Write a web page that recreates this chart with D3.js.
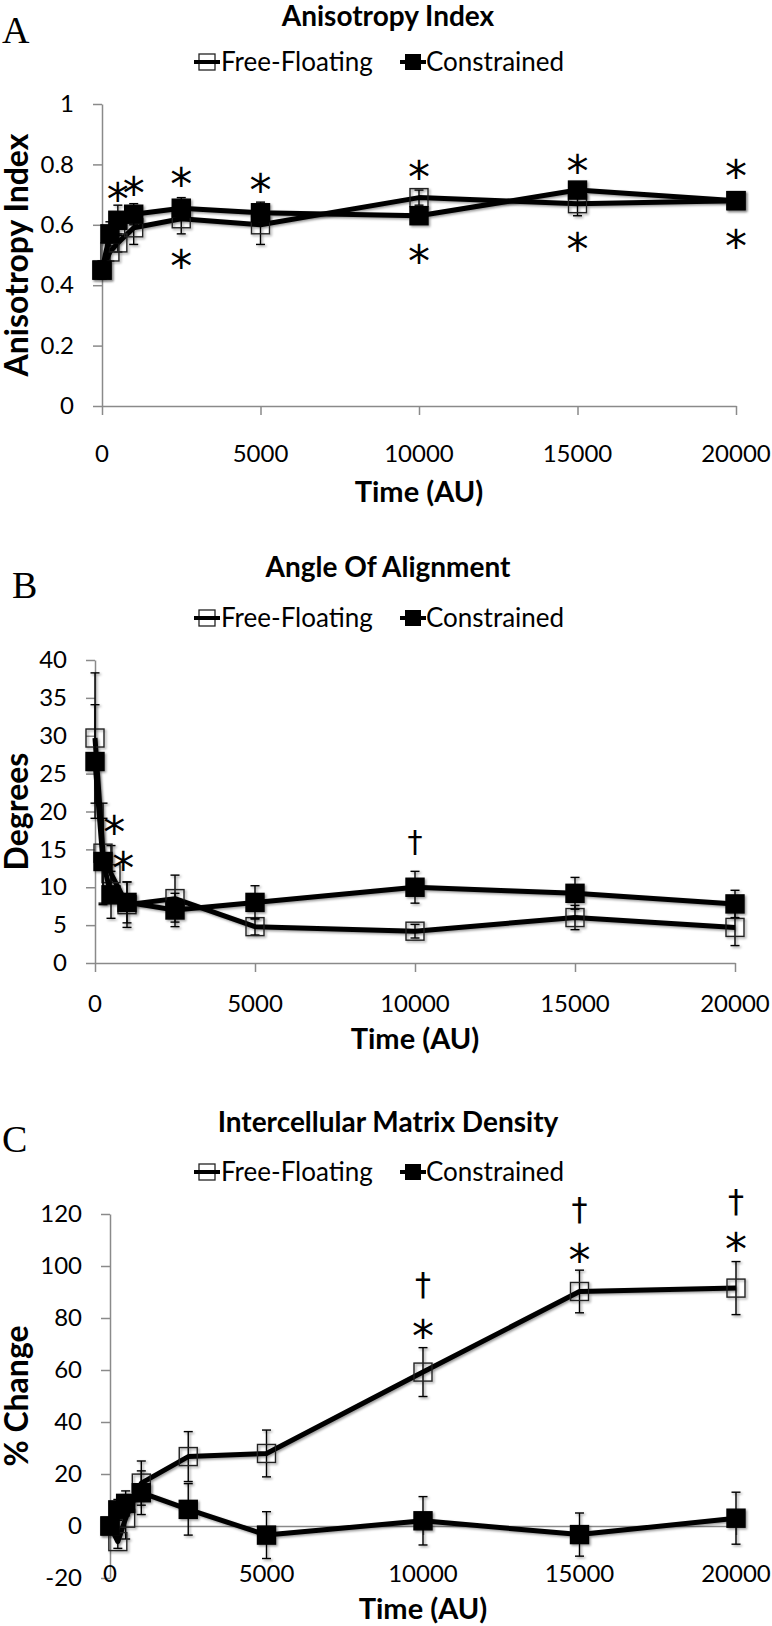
<!DOCTYPE html>
<html><head><meta charset="utf-8">
<script src="https://cdn.jsdelivr.net/npm/d3@7"></script>
<style>body{margin:0;background:#fff} svg{display:block}</style>
</head><body><svg id="c" width="772" height="1626"></svg>
<script>
// ---------- data ----------
const times = [0, 250, 500, 1000, 2500, 5000, 10000, 15000, 20000];
const xTickValues = [0, 5000, 10000, 15000, 20000];
const seriesNames = ['Free-Floating', 'Constrained'];

// A: Anisotropy Index
const anisoFree    = [0.45, 0.51, 0.54, 0.59, 0.62, 0.60, 0.69, 0.67, 0.68];
const anisoFreeErr = [0.03, 0.03, 0.03, 0.055, 0.05, 0.065, 0.025, 0.04, 0.01];
const anisoCon     = [0.45, 0.57, 0.615, 0.635, 0.655, 0.64, 0.63, 0.715, 0.68];
const anisoConErr  = [0.03, 0.04, 0.05, 0.035, 0.035, 0.035, 0.02, 0.02, 0.01];
const anisoYTicks  = [0, 0.2, 0.4, 0.6, 0.8, 1];
const anisoStars   = [[500,0.715],[1000,0.737],[2500,0.765],[2500,0.495],[5000,0.746],
                      [10000,0.787],[10000,0.511],[15000,0.809],[15000,0.55],[20000,0.792],[20000,0.56]];
const anisoDaggers = [];

// B: Angle Of Alignment
const angleFree    = [29.7, 14.5, 11.8, 7.7, 8.5, 4.8, 4.2, 6.0, 4.7];
const angleFreeErr = [8.6, 6.6, 3.7, 3.0, 3.1, 1.1, 0.9, 1.6, 2.4];
const angleCon     = [26.6, 13.4, 9.0, 8.0, 7.0, 8.0, 10.0, 9.2, 7.8];
const angleConErr  = [7.5, 5.7, 3.1, 2.7, 2.2, 2.2, 2.1, 2.1, 1.8];
const angleYTicks  = [0, 5, 10, 15, 20, 25, 30, 35, 40];
const angleStars   = [[600,18.5],[885,13.8]];
const angleDaggers = [[10000,15.8]];

// C: Intercellular Matrix Density
const densFree     = [0, -6, 3, 16.5, 26.7, 27.9, 59.2, 90.2, 91.5];
const densFreeErr  = [1, 2.6, 8, 8.5, 9.6, 9, 9.4, 8.2, 10.2];
const densCon      = [0, 6.2, 8.7, 12.8, 6.4, -3.5, 2.0, -3.3, 3.0];
const densConErr   = [1, 4, 4.8, 8.4, 9.9, 9, 9.3, 8.3, 10];
const densYTicks   = [-20, 0, 20, 40, 60, 80, 100, 120];
const densStars    = [[10000,76.4],[15000,105.9],[20000,109.9]];
const densDaggers  = [[10000,92.5],[15000,121.3],[20000,124.6]];

// ---------- drawing ----------
const svg = d3.select('#c');
const defs = svg.append('defs');
defs.append('filter').attr('id','sh').attr('x','-50%').attr('y','-50%').attr('width','200%').attr('height','200%')
  .append('feDropShadow').attr('dx',1.5).attr('dy',1.5).attr('stdDeviation',1.2).attr('flood-color','#000').attr('flood-opacity',0.4);

const AXIS = '#8a8a8a';
const SANS = 'Lato, "Open Sans", sans-serif';

function legend(g, y) {
  const items = [{name: seriesNames[0], filled: false, cx: 207, tx: 221},
                 {name: seriesNames[1], filled: true, cx: 413, tx: 426}];
  items.forEach(it => {
    if (it.filled) {
      g.append('line').attr('x1', it.cx-13).attr('x2', it.cx+13).attr('y1', y).attr('y2', y).attr('stroke','#000').attr('stroke-width',4);
      g.append('rect').attr('x', it.cx-8).attr('y', y-8).attr('width',16).attr('height',16).attr('fill','#000');
    } else {
      g.append('rect').attr('x', it.cx-8).attr('y', y-8).attr('width',16).attr('height',16).attr('fill','#fff').attr('stroke','#222').attr('stroke-width',1.3);
      g.append('line').attr('x1', it.cx-13).attr('x2', it.cx+13).attr('y1', y).attr('y2', y).attr('stroke','#000').attr('stroke-width',4);
    }
    g.append('text').attr('x', it.tx).attr('y', y+9).attr('font-family',SANS).attr('font-size',26).text(it.name);
  });
}

function series(g, x, y, vals, errs, filled) {
  const s = g.append('g').attr('filter','url(#sh)');
  const pts = times.map((t,i) => ({t, v: vals[i], e: errs[i]}));
  const eb = s.append('g').attr('stroke','#000').attr('stroke-width',1.4);
  pts.forEach(p => {
    eb.append('line').attr('x1',x(p.t)).attr('x2',x(p.t)).attr('y1',y(p.v-p.e)).attr('y2',y(p.v+p.e));
    [p.v-p.e, p.v+p.e].forEach(w => eb.append('line').attr('x1',x(p.t)-4.5).attr('x2',x(p.t)+4.5).attr('y1',y(w)).attr('y2',y(w)));
  });
  s.append('path').datum(pts).attr('fill','none').attr('stroke','#000').attr('stroke-width',5).attr('stroke-linejoin','round')
    .attr('d', d3.line().x(d=>x(d.t)).y(d=>y(d.v)));
  s.selectAll(null).data(pts).join('rect')
    .attr('x', d=>x(d.t)-9).attr('y', d=>y(d.v)-9).attr('width',18).attr('height',18)
    .attr('fill', filled ? '#000' : 'none').attr('stroke', filled ? '#000' : '#222').attr('stroke-width',1.4);
}

function panel(p) {
  const g = svg.append('g');
  const x = d3.scaleLinear().domain([0, 20000]).range(p.xr);
  const y = d3.scaleLinear().domain(p.yd).range(p.yr);

  g.append('text').attr('x',p.letter[1]).attr('y',p.letter[2]).attr('font-family','"Liberation Serif", serif').attr('font-size',38).text(p.letter[0]);
  g.append('text').attr('x',388).attr('y',p.titleY).attr('text-anchor','middle').attr('font-family',SANS).attr('font-weight','bold').attr('font-size',28).text(p.title);
  legend(g, p.legendY);

  const ya = g.append('g').attr('transform',`translate(${p.xr[0]},0)`)
    .call(d3.axisLeft(y).tickValues(p.yTicks).tickSize(9).tickSizeOuter(0).tickPadding(19).tickFormat(d => String(d)));
  ya.select('.domain').attr('stroke',AXIS).attr('stroke-width',1.5);
  ya.selectAll('.tick line').attr('stroke',AXIS).attr('stroke-width',1.5);
  ya.selectAll('text').attr('font-family',SANS).attr('font-size',24).attr('fill','#000');

  const xa = g.append('g').attr('transform',`translate(0,${y(0)})`)
    .call(d3.axisBottom(x).tickValues(xTickValues).tickSize(9).tickSizeOuter(0).tickFormat(''));
  xa.select('.domain').attr('stroke',AXIS).attr('stroke-width',1.5);
  xa.selectAll('.tick line').attr('stroke',AXIS).attr('stroke-width',1.5);

  g.selectAll(null).data(xTickValues).join('text')
    .attr('x', d=>x(d)).attr('y', p.xLabelY+8.5).attr('text-anchor','middle')
    .attr('font-family',SANS).attr('font-size',24).text(d => String(d));

  g.append('text').attr('x',(p.xr[0]+p.xr[1])/2).attr('y',p.xTitleY+10).attr('text-anchor','middle')
    .attr('font-family',SANS).attr('font-weight','bold').attr('font-size',29).text('Time (AU)');
  const yc = (p.yr[0]+p.yr[1])/2;
  g.append('text').attr('transform',`translate(28,${yc}) rotate(-90)`).attr('text-anchor','middle')
    .attr('font-family',SANS).attr('font-weight','bold').attr('font-size',32).text(p.yTitle);

  series(g, x, y, p.free, p.freeErr, false);
  series(g, x, y, p.con, p.conErr, true);

  g.selectAll(null).data(p.stars).join('text')
    .attr('x', d=>x(d[0])).attr('y', d=>y(d[1]) + 0.57*44).attr('text-anchor','middle')
    .attr('font-family','"DejaVu Sans", sans-serif').attr('font-size',44).text('*');
  g.selectAll(null).data(p.daggers).join('text')
    .attr('x', d=>x(d[0])).attr('y', d=>y(d[1]) + 0.3*p.dagSize).attr('text-anchor','middle')
    .attr('font-family','"DejaVu Sans", sans-serif').attr('font-size',p.dagSize).text('\u2020');
}

panel({letter:['A',2,43], title:'Anisotropy Index', titleY:26, legendY:62,
  xr:[102,736], yd:[0,1], yr:[406,104], yTicks:anisoYTicks, xLabelY:453, xTitleY:492, yTitle:'Anisotropy Index',
  free:anisoFree, freeErr:anisoFreeErr, con:anisoCon, conErr:anisoConErr, stars:anisoStars, daggers:anisoDaggers, dagSize:30});
panel({letter:['B',12,598], title:'Angle Of Alignment', titleY:577, legendY:618,
  xr:[95,735], yd:[0,40], yr:[963,660], yTicks:angleYTicks, xLabelY:1003, xTitleY:1039, yTitle:'Degrees',
  free:angleFree, freeErr:angleFreeErr, con:angleCon, conErr:angleConErr, stars:angleStars, daggers:angleDaggers, dagSize:30});
panel({letter:['C',2,1152], title:'Intercellular Matrix Density', titleY:1132, legendY:1172,
  xr:[110,736], yd:[-20,120], yr:[1578,1214], yTicks:densYTicks, xLabelY:1573, xTitleY:1609, yTitle:'% Change',
  free:densFree, freeErr:densFreeErr, con:densCon, conErr:densConErr, stars:densStars, daggers:densDaggers, dagSize:32});
</script></body></html>
